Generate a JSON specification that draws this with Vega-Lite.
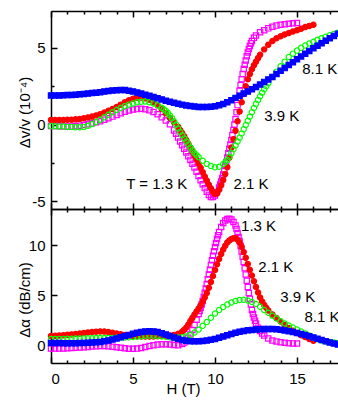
{
"$schema": "https://vega.github.io/schema/vega-lite/v6.json",
"padding": {"left": 17, "top": 10, "right": 0, "bottom": 0},
"spacing": 0,
"bounds": "flush",
"config": {
 "view": {"stroke": null},
 "axis": {"domainColor": "#000", "domainWidth": 1.5, "tickColor": "#000", "tickWidth": 1.5, "labelFont": "Liberation Sans", "labelFontSize": 15, "labelColor": "#000", "titleFont": "Liberation Sans", "titleFontSize": 15, "titleFontWeight": "normal", "titleColor": "#000", "grid": false},
 "text": {"font": "Liberation Sans", "fontSize": 15, "color": "#000"}
},
"datasets": {
"top": [
{"s":"1.3","h":0,"v":-0.1},{"s":"1.3","h":0.25,"v":-0.1},{"s":"1.3","h":0.5,"v":-0.11},{"s":"1.3","h":0.75,"v":-0.12},{"s":"1.3","h":1,"v":-0.12},{"s":"1.3","h":1.25,"v":-0.12},{"s":"1.3","h":1.5,"v":-0.1},{"s":"1.3","h":1.75,"v":-0.07},{"s":"1.3","h":2,"v":-0.03},{"s":"1.3","h":2.25,"v":0.02},{"s":"1.3","h":2.5,"v":0.08},{"s":"1.3","h":2.75,"v":0.15},{"s":"1.3","h":3,"v":0.22},{"s":"1.3","h":3.25,"v":0.31},{"s":"1.3","h":3.5,"v":0.41},{"s":"1.3","h":3.75,"v":0.52},{"s":"1.3","h":4,"v":0.63},{"s":"1.3","h":4.25,"v":0.74},{"s":"1.3","h":4.5,"v":0.84},{"s":"1.3","h":4.75,"v":0.92},{"s":"1.3","h":5,"v":0.98},{"s":"1.3","h":5.25,"v":1.01},{"s":"1.3","h":5.5,"v":1.03},{"s":"1.3","h":5.75,"v":1.0},{"s":"1.3","h":6,"v":0.93},{"s":"1.3","h":6.25,"v":0.82},{"s":"1.3","h":6.5,"v":0.67},{"s":"1.3","h":6.75,"v":0.48},{"s":"1.3","h":7,"v":0.27},{"s":"1.3","h":7.25,"v":0.02},{"s":"1.3","h":7.5,"v":-0.38},{"s":"1.3","h":7.625,"v":-0.6},{"s":"1.3","h":7.75,"v":-0.85},{"s":"1.3","h":7.875,"v":-1.1},{"s":"1.3","h":8,"v":-1.35},{"s":"1.3","h":8.125,"v":-1.58},{"s":"1.3","h":8.25,"v":-1.82},{"s":"1.3","h":8.375,"v":-2.06},{"s":"1.3","h":8.5,"v":-2.3},{"s":"1.3","h":8.625,"v":-2.55},{"s":"1.3","h":8.75,"v":-2.8},{"s":"1.3","h":8.875,"v":-3.07},{"s":"1.3","h":9,"v":-3.35},{"s":"1.3","h":9.125,"v":-3.62},{"s":"1.3","h":9.25,"v":-3.88},{"s":"1.3","h":9.375,"v":-4.14},{"s":"1.3","h":9.5,"v":-4.38},{"s":"1.3","h":9.625,"v":-4.58},{"s":"1.3","h":9.75,"v":-4.72},{"s":"1.3","h":9.875,"v":-4.72},{"s":"1.3","h":10,"v":-4.62},{"s":"1.3","h":10.125,"v":-4.4},{"s":"1.3","h":10.25,"v":-4.1},{"s":"1.3","h":10.3125,"v":-3.9},{"s":"1.3","h":10.375,"v":-3.7},{"s":"1.3","h":10.4375,"v":-3.48},{"s":"1.3","h":10.5,"v":-3.25},{"s":"1.3","h":10.5625,"v":-2.98},{"s":"1.3","h":10.625,"v":-2.7},{"s":"1.3","h":10.6875,"v":-2.43},{"s":"1.3","h":10.75,"v":-2.15},{"s":"1.3","h":10.8125,"v":-1.86},{"s":"1.3","h":10.875,"v":-1.57},{"s":"1.3","h":10.9375,"v":-1.29},{"s":"1.3","h":11,"v":-1.0},{"s":"1.3","h":11.0625,"v":-0.68},{"s":"1.3","h":11.125,"v":-0.35},{"s":"1.3","h":11.1875,"v":0.0},{"s":"1.3","h":11.25,"v":0.35},{"s":"1.3","h":11.3125,"v":0.8},{"s":"1.3","h":11.375,"v":1.27},{"s":"1.3","h":11.4375,"v":1.74},{"s":"1.3","h":11.5,"v":2.2},{"s":"1.3","h":11.5625,"v":2.58},{"s":"1.3","h":11.625,"v":2.95},{"s":"1.3","h":11.6875,"v":3.3},{"s":"1.3","h":11.75,"v":3.62},{"s":"1.3","h":11.8125,"v":3.9},{"s":"1.3","h":11.875,"v":4.18},{"s":"1.3","h":11.9375,"v":4.45},{"s":"1.3","h":12,"v":4.7},{"s":"1.3","h":12.0625,"v":4.92},{"s":"1.3","h":12.125,"v":5.12},{"s":"1.3","h":12.1875,"v":5.3},{"s":"1.3","h":12.25,"v":5.45},{"s":"1.3","h":12.375,"v":5.65},{"s":"1.3","h":12.5,"v":5.8},{"s":"1.3","h":12.75,"v":6.02},{"s":"1.3","h":13,"v":6.15},{"s":"1.3","h":13.25,"v":6.27},{"s":"1.3","h":13.5,"v":6.37},{"s":"1.3","h":13.75,"v":6.45},{"s":"1.3","h":14,"v":6.5},{"s":"1.3","h":14.25,"v":6.54},{"s":"1.3","h":14.5,"v":6.57},{"s":"1.3","h":14.75,"v":6.6},{"s":"1.3","h":15,"v":6.62},
{"s":"2.1","h":0,"v":0.3},{"s":"2.1","h":0.25,"v":0.3},{"s":"2.1","h":0.5,"v":0.3},{"s":"2.1","h":0.75,"v":0.3},{"s":"2.1","h":1,"v":0.31},{"s":"2.1","h":1.25,"v":0.32},{"s":"2.1","h":1.5,"v":0.34},{"s":"2.1","h":1.75,"v":0.37},{"s":"2.1","h":2,"v":0.41},{"s":"2.1","h":2.25,"v":0.46},{"s":"2.1","h":2.5,"v":0.52},{"s":"2.1","h":2.75,"v":0.6},{"s":"2.1","h":3,"v":0.68},{"s":"2.1","h":3.25,"v":0.78},{"s":"2.1","h":3.5,"v":0.9},{"s":"2.1","h":3.75,"v":1.02},{"s":"2.1","h":4,"v":1.15},{"s":"2.1","h":4.25,"v":1.3},{"s":"2.1","h":4.5,"v":1.45},{"s":"2.1","h":4.75,"v":1.58},{"s":"2.1","h":5,"v":1.68},{"s":"2.1","h":5.25,"v":1.74},{"s":"2.1","h":5.5,"v":1.76},{"s":"2.1","h":5.75,"v":1.72},{"s":"2.1","h":6,"v":1.62},{"s":"2.1","h":6.25,"v":1.46},{"s":"2.1","h":6.5,"v":1.26},{"s":"2.1","h":6.75,"v":1.02},{"s":"2.1","h":7,"v":0.74},{"s":"2.1","h":7.25,"v":0.45},{"s":"2.1","h":7.5,"v":0.15},{"s":"2.1","h":7.75,"v":-0.15},{"s":"2.1","h":7.875,"v":-0.35},{"s":"2.1","h":8,"v":-0.55},{"s":"2.1","h":8.125,"v":-0.77},{"s":"2.1","h":8.25,"v":-1.0},{"s":"2.1","h":8.375,"v":-1.25},{"s":"2.1","h":8.5,"v":-1.5},{"s":"2.1","h":8.625,"v":-1.76},{"s":"2.1","h":8.75,"v":-2.02},{"s":"2.1","h":8.875,"v":-2.28},{"s":"2.1","h":9,"v":-2.55},{"s":"2.1","h":9.125,"v":-2.82},{"s":"2.1","h":9.25,"v":-3.1},{"s":"2.1","h":9.375,"v":-3.38},{"s":"2.1","h":9.5,"v":-3.65},{"s":"2.1","h":9.625,"v":-3.92},{"s":"2.1","h":9.75,"v":-4.15},{"s":"2.1","h":9.875,"v":-4.38},{"s":"2.1","h":10,"v":-4.52},{"s":"2.1","h":10.125,"v":-4.48},{"s":"2.1","h":10.25,"v":-4.25},{"s":"2.1","h":10.375,"v":-3.95},{"s":"2.1","h":10.5,"v":-3.6},{"s":"2.1","h":10.625,"v":-3.22},{"s":"2.1","h":10.75,"v":-2.78},{"s":"2.1","h":10.875,"v":-2.15},{"s":"2.1","h":11,"v":-1.5},{"s":"2.1","h":11.125,"v":-0.95},{"s":"2.1","h":11.25,"v":-0.4},{"s":"2.1","h":11.375,"v":0.22},{"s":"2.1","h":11.5,"v":0.85},{"s":"2.1","h":11.625,"v":1.45},{"s":"2.1","h":11.75,"v":2.0},{"s":"2.1","h":11.875,"v":2.5},{"s":"2.1","h":12,"v":2.95},{"s":"2.1","h":12.125,"v":3.3},{"s":"2.1","h":12.25,"v":3.6},{"s":"2.1","h":12.375,"v":3.87},{"s":"2.1","h":12.5,"v":4.1},{"s":"2.1","h":12.625,"v":4.33},{"s":"2.1","h":12.75,"v":4.55},{"s":"2.1","h":13,"v":4.9},{"s":"2.1","h":13.25,"v":5.2},{"s":"2.1","h":13.5,"v":5.45},{"s":"2.1","h":13.75,"v":5.62},{"s":"2.1","h":14,"v":5.75},{"s":"2.1","h":14.25,"v":5.87},{"s":"2.1","h":14.5,"v":5.97},{"s":"2.1","h":14.75,"v":6.06},{"s":"2.1","h":15,"v":6.15},{"s":"2.1","h":15.25,"v":6.25},{"s":"2.1","h":15.5,"v":6.35},{"s":"2.1","h":15.75,"v":6.43},{"s":"2.1","h":16,"v":6.5},
{"s":"3.9","h":0,"v":-0.1},{"s":"3.9","h":0.25,"v":-0.11},{"s":"3.9","h":0.5,"v":-0.12},{"s":"3.9","h":0.75,"v":-0.13},{"s":"3.9","h":1,"v":-0.15},{"s":"3.9","h":1.25,"v":-0.16},{"s":"3.9","h":1.5,"v":-0.17},{"s":"3.9","h":1.75,"v":-0.17},{"s":"3.9","h":2,"v":-0.15},{"s":"3.9","h":2.25,"v":-0.08},{"s":"3.9","h":2.5,"v":0.03},{"s":"3.9","h":2.75,"v":0.17},{"s":"3.9","h":3,"v":0.32},{"s":"3.9","h":3.25,"v":0.48},{"s":"3.9","h":3.5,"v":0.64},{"s":"3.9","h":3.75,"v":0.8},{"s":"3.9","h":4,"v":0.95},{"s":"3.9","h":4.25,"v":1.08},{"s":"3.9","h":4.5,"v":1.2},{"s":"3.9","h":4.75,"v":1.3},{"s":"3.9","h":5,"v":1.38},{"s":"3.9","h":5.25,"v":1.45},{"s":"3.9","h":5.5,"v":1.49},{"s":"3.9","h":5.75,"v":1.5},{"s":"3.9","h":6,"v":1.46},{"s":"3.9","h":6.25,"v":1.38},{"s":"3.9","h":6.5,"v":1.26},{"s":"3.9","h":6.75,"v":1.1},{"s":"3.9","h":6.875,"v":1.0},{"s":"3.9","h":7,"v":0.9},{"s":"3.9","h":7.125,"v":0.76},{"s":"3.9","h":7.25,"v":0.6},{"s":"3.9","h":7.375,"v":0.42},{"s":"3.9","h":7.5,"v":0.22},{"s":"3.9","h":7.625,"v":0.0},{"s":"3.9","h":7.75,"v":-0.25},{"s":"3.9","h":7.875,"v":-0.48},{"s":"3.9","h":8,"v":-0.7},{"s":"3.9","h":8.125,"v":-0.9},{"s":"3.9","h":8.25,"v":-1.1},{"s":"3.9","h":8.375,"v":-1.3},{"s":"3.9","h":8.5,"v":-1.5},{"s":"3.9","h":8.625,"v":-1.68},{"s":"3.9","h":8.75,"v":-1.85},{"s":"3.9","h":8.875,"v":-1.99},{"s":"3.9","h":9,"v":-2.12},{"s":"3.9","h":9.25,"v":-2.36},{"s":"3.9","h":9.5,"v":-2.56},{"s":"3.9","h":9.75,"v":-2.7},{"s":"3.9","h":10,"v":-2.78},{"s":"3.9","h":10.25,"v":-2.75},{"s":"3.9","h":10.5,"v":-2.57},{"s":"3.9","h":10.625,"v":-2.45},{"s":"3.9","h":10.75,"v":-2.3},{"s":"3.9","h":10.875,"v":-2.1},{"s":"3.9","h":11,"v":-1.86},{"s":"3.9","h":11.125,"v":-1.61},{"s":"3.9","h":11.25,"v":-1.36},{"s":"3.9","h":11.375,"v":-1.1},{"s":"3.9","h":11.5,"v":-0.85},{"s":"3.9","h":11.625,"v":-0.58},{"s":"3.9","h":11.75,"v":-0.3},{"s":"3.9","h":11.875,"v":-0.03},{"s":"3.9","h":12,"v":0.25},{"s":"3.9","h":12.125,"v":0.52},{"s":"3.9","h":12.25,"v":0.8},{"s":"3.9","h":12.375,"v":1.08},{"s":"3.9","h":12.5,"v":1.35},{"s":"3.9","h":12.625,"v":1.6},{"s":"3.9","h":12.75,"v":1.85},{"s":"3.9","h":12.875,"v":2.08},{"s":"3.9","h":13,"v":2.3},{"s":"3.9","h":13.125,"v":2.5},{"s":"3.9","h":13.25,"v":2.7},{"s":"3.9","h":13.5,"v":3.1},{"s":"3.9","h":13.75,"v":3.45},{"s":"3.9","h":14,"v":3.8},{"s":"3.9","h":14.25,"v":4.1},{"s":"3.9","h":14.5,"v":4.4},{"s":"3.9","h":14.75,"v":4.62},{"s":"3.9","h":15,"v":4.82},{"s":"3.9","h":15.25,"v":5.0},{"s":"3.9","h":15.5,"v":5.15},{"s":"3.9","h":15.75,"v":5.28},{"s":"3.9","h":16,"v":5.4},{"s":"3.9","h":16.25,"v":5.52},{"s":"3.9","h":16.5,"v":5.62},{"s":"3.9","h":16.75,"v":5.72},{"s":"3.9","h":17,"v":5.82},{"s":"3.9","h":17.25,"v":5.9},{"s":"3.9","h":17.5,"v":5.98},
{"s":"8.1","h":0,"v":1.9},{"s":"8.1","h":0.25,"v":1.9},{"s":"8.1","h":0.5,"v":1.9},{"s":"8.1","h":0.75,"v":1.91},{"s":"8.1","h":1,"v":1.92},{"s":"8.1","h":1.25,"v":1.93},{"s":"8.1","h":1.5,"v":1.95},{"s":"8.1","h":1.75,"v":1.97},{"s":"8.1","h":2,"v":1.99},{"s":"8.1","h":2.25,"v":2.02},{"s":"8.1","h":2.5,"v":2.05},{"s":"8.1","h":2.75,"v":2.08},{"s":"8.1","h":3,"v":2.11},{"s":"8.1","h":3.25,"v":2.15},{"s":"8.1","h":3.5,"v":2.19},{"s":"8.1","h":3.75,"v":2.22},{"s":"8.1","h":4,"v":2.24},{"s":"8.1","h":4.25,"v":2.26},{"s":"8.1","h":4.5,"v":2.25},{"s":"8.1","h":4.75,"v":2.21},{"s":"8.1","h":5,"v":2.16},{"s":"8.1","h":5.25,"v":2.09},{"s":"8.1","h":5.5,"v":2.02},{"s":"8.1","h":5.75,"v":1.95},{"s":"8.1","h":6,"v":1.88},{"s":"8.1","h":6.25,"v":1.8},{"s":"8.1","h":6.5,"v":1.72},{"s":"8.1","h":6.75,"v":1.64},{"s":"8.1","h":7,"v":1.56},{"s":"8.1","h":7.25,"v":1.49},{"s":"8.1","h":7.5,"v":1.42},{"s":"8.1","h":7.75,"v":1.36},{"s":"8.1","h":8,"v":1.3},{"s":"8.1","h":8.25,"v":1.25},{"s":"8.1","h":8.5,"v":1.21},{"s":"8.1","h":8.75,"v":1.18},{"s":"8.1","h":9,"v":1.15},{"s":"8.1","h":9.25,"v":1.14},{"s":"8.1","h":9.5,"v":1.14},{"s":"8.1","h":9.75,"v":1.16},{"s":"8.1","h":10,"v":1.2},{"s":"8.1","h":10.25,"v":1.26},{"s":"8.1","h":10.5,"v":1.34},{"s":"8.1","h":10.75,"v":1.45},{"s":"8.1","h":11,"v":1.58},{"s":"8.1","h":11.25,"v":1.74},{"s":"8.1","h":11.5,"v":1.88},{"s":"8.1","h":11.75,"v":2.02},{"s":"8.1","h":12,"v":2.15},{"s":"8.1","h":12.25,"v":2.3},{"s":"8.1","h":12.5,"v":2.45},{"s":"8.1","h":12.75,"v":2.61},{"s":"8.1","h":13,"v":2.78},{"s":"8.1","h":13.25,"v":2.94},{"s":"8.1","h":13.5,"v":3.1},{"s":"8.1","h":13.75,"v":3.3},{"s":"8.1","h":14,"v":3.5},{"s":"8.1","h":14.25,"v":3.69},{"s":"8.1","h":14.5,"v":3.88},{"s":"8.1","h":14.75,"v":4.06},{"s":"8.1","h":15,"v":4.25},{"s":"8.1","h":15.25,"v":4.44},{"s":"8.1","h":15.5,"v":4.62},{"s":"8.1","h":15.75,"v":4.8},{"s":"8.1","h":16,"v":4.98},{"s":"8.1","h":16.25,"v":5.14},{"s":"8.1","h":16.5,"v":5.3},{"s":"8.1","h":16.75,"v":5.46},{"s":"8.1","h":17,"v":5.62},{"s":"8.1","h":17.25,"v":5.77},{"s":"8.1","h":17.5,"v":5.92}
],
"bot": [
{"s":"1.3","h":0,"v":-0.35},{"s":"1.3","h":0.25,"v":-0.35},{"s":"1.3","h":0.5,"v":-0.35},{"s":"1.3","h":0.75,"v":-0.34},{"s":"1.3","h":1,"v":-0.32},{"s":"1.3","h":1.25,"v":-0.3},{"s":"1.3","h":1.5,"v":-0.28},{"s":"1.3","h":1.75,"v":-0.25},{"s":"1.3","h":2,"v":-0.22},{"s":"1.3","h":2.25,"v":-0.19},{"s":"1.3","h":2.5,"v":-0.15},{"s":"1.3","h":2.75,"v":-0.12},{"s":"1.3","h":3,"v":-0.1},{"s":"1.3","h":3.25,"v":-0.1},{"s":"1.3","h":3.5,"v":-0.12},{"s":"1.3","h":3.75,"v":-0.17},{"s":"1.3","h":4,"v":-0.22},{"s":"1.3","h":4.25,"v":-0.28},{"s":"1.3","h":4.5,"v":-0.33},{"s":"1.3","h":4.75,"v":-0.37},{"s":"1.3","h":5,"v":-0.38},{"s":"1.3","h":5.25,"v":-0.36},{"s":"1.3","h":5.5,"v":-0.3},{"s":"1.3","h":5.75,"v":-0.2},{"s":"1.3","h":6,"v":-0.1},{"s":"1.3","h":6.25,"v":-0.02},{"s":"1.3","h":6.5,"v":0.04},{"s":"1.3","h":6.75,"v":0.07},{"s":"1.3","h":7,"v":0.08},{"s":"1.3","h":7.25,"v":0.05},{"s":"1.3","h":7.5,"v":0.0},{"s":"1.3","h":7.75,"v":-0.02},{"s":"1.3","h":8,"v":0.1},{"s":"1.3","h":8.125,"v":0.25},{"s":"1.3","h":8.25,"v":0.45},{"s":"1.3","h":8.375,"v":0.72},{"s":"1.3","h":8.5,"v":1.05},{"s":"1.3","h":8.625,"v":1.5},{"s":"1.3","h":8.75,"v":2.0},{"s":"1.3","h":8.875,"v":2.52},{"s":"1.3","h":9,"v":3.1},{"s":"1.3","h":9.0625,"v":3.4},{"s":"1.3","h":9.125,"v":3.72},{"s":"1.3","h":9.1875,"v":4.05},{"s":"1.3","h":9.25,"v":4.4},{"s":"1.3","h":9.3125,"v":4.8},{"s":"1.3","h":9.375,"v":5.22},{"s":"1.3","h":9.4375,"v":5.65},{"s":"1.3","h":9.5,"v":6.1},{"s":"1.3","h":9.5625,"v":6.57},{"s":"1.3","h":9.625,"v":7.05},{"s":"1.3","h":9.6875,"v":7.52},{"s":"1.3","h":9.75,"v":8.0},{"s":"1.3","h":9.8125,"v":8.47},{"s":"1.3","h":9.875,"v":8.93},{"s":"1.3","h":9.9375,"v":9.37},{"s":"1.3","h":10,"v":9.8},{"s":"1.3","h":10.0625,"v":10.2},{"s":"1.3","h":10.125,"v":10.6},{"s":"1.3","h":10.1875,"v":10.97},{"s":"1.3","h":10.25,"v":11.3},{"s":"1.3","h":10.375,"v":11.8},{"s":"1.3","h":10.5,"v":12.2},{"s":"1.3","h":10.625,"v":12.45},{"s":"1.3","h":10.75,"v":12.6},{"s":"1.3","h":10.875,"v":12.62},{"s":"1.3","h":11,"v":12.55},{"s":"1.3","h":11.125,"v":12.3},{"s":"1.3","h":11.25,"v":11.95},{"s":"1.3","h":11.3125,"v":11.6},{"s":"1.3","h":11.375,"v":11.2},{"s":"1.3","h":11.4375,"v":10.8},{"s":"1.3","h":11.5,"v":10.4},{"s":"1.3","h":11.5625,"v":9.9},{"s":"1.3","h":11.625,"v":9.35},{"s":"1.3","h":11.6875,"v":8.83},{"s":"1.3","h":11.75,"v":8.3},{"s":"1.3","h":11.8125,"v":7.68},{"s":"1.3","h":11.875,"v":7.05},{"s":"1.3","h":11.9375,"v":6.42},{"s":"1.3","h":12,"v":5.8},{"s":"1.3","h":12.0625,"v":5.2},{"s":"1.3","h":12.125,"v":4.62},{"s":"1.3","h":12.1875,"v":4.05},{"s":"1.3","h":12.25,"v":3.5},{"s":"1.3","h":12.3125,"v":3.1},{"s":"1.3","h":12.375,"v":2.75},{"s":"1.3","h":12.4375,"v":2.43},{"s":"1.3","h":12.5,"v":2.15},{"s":"1.3","h":12.625,"v":1.72},{"s":"1.3","h":12.75,"v":1.4},{"s":"1.3","h":12.875,"v":1.15},{"s":"1.3","h":13,"v":0.95},{"s":"1.3","h":13.25,"v":0.65},{"s":"1.3","h":13.5,"v":0.45},{"s":"1.3","h":13.75,"v":0.35},{"s":"1.3","h":14,"v":0.28},{"s":"1.3","h":14.25,"v":0.22},{"s":"1.3","h":14.5,"v":0.18},{"s":"1.3","h":14.75,"v":0.16},{"s":"1.3","h":15,"v":0.15},
{"s":"2.1","h":0,"v":0.9},{"s":"2.1","h":0.25,"v":0.92},{"s":"2.1","h":0.5,"v":0.95},{"s":"2.1","h":0.75,"v":0.98},{"s":"2.1","h":1,"v":1.02},{"s":"2.1","h":1.25,"v":1.06},{"s":"2.1","h":1.5,"v":1.1},{"s":"2.1","h":1.75,"v":1.15},{"s":"2.1","h":2,"v":1.2},{"s":"2.1","h":2.25,"v":1.25},{"s":"2.1","h":2.5,"v":1.3},{"s":"2.1","h":2.75,"v":1.33},{"s":"2.1","h":3,"v":1.35},{"s":"2.1","h":3.25,"v":1.34},{"s":"2.1","h":3.5,"v":1.3},{"s":"2.1","h":3.75,"v":1.23},{"s":"2.1","h":4,"v":1.15},{"s":"2.1","h":4.25,"v":1.07},{"s":"2.1","h":4.5,"v":1.0},{"s":"2.1","h":4.75,"v":0.94},{"s":"2.1","h":5,"v":0.9},{"s":"2.1","h":5.25,"v":0.87},{"s":"2.1","h":5.5,"v":0.85},{"s":"2.1","h":5.75,"v":0.85},{"s":"2.1","h":6,"v":0.85},{"s":"2.1","h":6.25,"v":0.86},{"s":"2.1","h":6.5,"v":0.87},{"s":"2.1","h":6.75,"v":0.88},{"s":"2.1","h":7,"v":0.9},{"s":"2.1","h":7.25,"v":0.94},{"s":"2.1","h":7.5,"v":1.0},{"s":"2.1","h":7.75,"v":1.12},{"s":"2.1","h":8,"v":1.35},{"s":"2.1","h":8.125,"v":1.53},{"s":"2.1","h":8.25,"v":1.75},{"s":"2.1","h":8.375,"v":2.05},{"s":"2.1","h":8.5,"v":2.4},{"s":"2.1","h":8.625,"v":2.72},{"s":"2.1","h":8.75,"v":3.05},{"s":"2.1","h":8.875,"v":3.35},{"s":"2.1","h":9,"v":3.65},{"s":"2.1","h":9.125,"v":3.98},{"s":"2.1","h":9.25,"v":4.35},{"s":"2.1","h":9.375,"v":4.75},{"s":"2.1","h":9.5,"v":5.2},{"s":"2.1","h":9.625,"v":5.72},{"s":"2.1","h":9.75,"v":6.3},{"s":"2.1","h":9.875,"v":6.9},{"s":"2.1","h":10,"v":7.5},{"s":"2.1","h":10.125,"v":8.07},{"s":"2.1","h":10.25,"v":8.6},{"s":"2.1","h":10.375,"v":9.1},{"s":"2.1","h":10.5,"v":9.55},{"s":"2.1","h":10.625,"v":9.93},{"s":"2.1","h":10.75,"v":10.25},{"s":"2.1","h":10.875,"v":10.45},{"s":"2.1","h":11,"v":10.6},{"s":"2.1","h":11.125,"v":10.68},{"s":"2.1","h":11.25,"v":10.7},{"s":"2.1","h":11.375,"v":10.52},{"s":"2.1","h":11.5,"v":10.25},{"s":"2.1","h":11.625,"v":9.82},{"s":"2.1","h":11.75,"v":9.3},{"s":"2.1","h":11.875,"v":8.72},{"s":"2.1","h":12,"v":8.1},{"s":"2.1","h":12.125,"v":7.52},{"s":"2.1","h":12.25,"v":6.95},{"s":"2.1","h":12.375,"v":6.37},{"s":"2.1","h":12.5,"v":5.8},{"s":"2.1","h":12.625,"v":5.25},{"s":"2.1","h":12.75,"v":4.75},{"s":"2.1","h":12.875,"v":4.35},{"s":"2.1","h":13,"v":4.0},{"s":"2.1","h":13.125,"v":3.72},{"s":"2.1","h":13.25,"v":3.45},{"s":"2.1","h":13.5,"v":3.05},{"s":"2.1","h":13.75,"v":2.7},{"s":"2.1","h":14,"v":2.35},{"s":"2.1","h":14.25,"v":2.0},{"s":"2.1","h":14.5,"v":1.7},{"s":"2.1","h":14.75,"v":1.42},{"s":"2.1","h":15,"v":1.2},{"s":"2.1","h":15.25,"v":0.98},{"s":"2.1","h":15.5,"v":0.8},{"s":"2.1","h":15.75,"v":0.6},{"s":"2.1","h":16,"v":0.43},
{"s":"3.9","h":0,"v":0.6},{"s":"3.9","h":0.25,"v":0.6},{"s":"3.9","h":0.5,"v":0.61},{"s":"3.9","h":0.75,"v":0.61},{"s":"3.9","h":1,"v":0.62},{"s":"3.9","h":1.25,"v":0.63},{"s":"3.9","h":1.5,"v":0.64},{"s":"3.9","h":1.75,"v":0.65},{"s":"3.9","h":2,"v":0.66},{"s":"3.9","h":2.25,"v":0.67},{"s":"3.9","h":2.5,"v":0.68},{"s":"3.9","h":2.75,"v":0.69},{"s":"3.9","h":3,"v":0.7},{"s":"3.9","h":3.25,"v":0.7},{"s":"3.9","h":3.5,"v":0.71},{"s":"3.9","h":3.75,"v":0.71},{"s":"3.9","h":4,"v":0.72},{"s":"3.9","h":4.25,"v":0.74},{"s":"3.9","h":4.5,"v":0.76},{"s":"3.9","h":4.75,"v":0.78},{"s":"3.9","h":5,"v":0.8},{"s":"3.9","h":5.25,"v":0.84},{"s":"3.9","h":5.5,"v":0.88},{"s":"3.9","h":5.75,"v":0.92},{"s":"3.9","h":6,"v":0.95},{"s":"3.9","h":6.25,"v":0.94},{"s":"3.9","h":6.5,"v":0.92},{"s":"3.9","h":6.75,"v":0.87},{"s":"3.9","h":7,"v":0.82},{"s":"3.9","h":7.25,"v":0.78},{"s":"3.9","h":7.5,"v":0.76},{"s":"3.9","h":7.75,"v":0.76},{"s":"3.9","h":8,"v":0.78},{"s":"3.9","h":8.25,"v":0.86},{"s":"3.9","h":8.5,"v":1.0},{"s":"3.9","h":8.75,"v":1.25},{"s":"3.9","h":9,"v":1.55},{"s":"3.9","h":9.25,"v":1.92},{"s":"3.9","h":9.5,"v":2.3},{"s":"3.9","h":9.75,"v":2.72},{"s":"3.9","h":10,"v":3.15},{"s":"3.9","h":10.25,"v":3.5},{"s":"3.9","h":10.5,"v":3.8},{"s":"3.9","h":10.75,"v":4.05},{"s":"3.9","h":11,"v":4.25},{"s":"3.9","h":11.25,"v":4.4},{"s":"3.9","h":11.5,"v":4.5},{"s":"3.9","h":11.75,"v":4.53},{"s":"3.9","h":12,"v":4.45},{"s":"3.9","h":12.25,"v":4.3},{"s":"3.9","h":12.5,"v":4.1},{"s":"3.9","h":12.75,"v":3.82},{"s":"3.9","h":13,"v":3.5},{"s":"3.9","h":13.25,"v":3.22},{"s":"3.9","h":13.5,"v":2.93},{"s":"3.9","h":13.75,"v":2.65},{"s":"3.9","h":14,"v":2.38},{"s":"3.9","h":14.25,"v":2.15},{"s":"3.9","h":14.5,"v":1.95},{"s":"3.9","h":14.75,"v":1.75},{"s":"3.9","h":15,"v":1.55},{"s":"3.9","h":15.25,"v":1.35},{"s":"3.9","h":15.5,"v":1.15},{"s":"3.9","h":15.75,"v":0.94},{"s":"3.9","h":16,"v":0.73},{"s":"3.9","h":16.25,"v":0.57},{"s":"3.9","h":16.5,"v":0.45},{"s":"3.9","h":16.75,"v":0.36},{"s":"3.9","h":17,"v":0.3},{"s":"3.9","h":17.25,"v":0.24},{"s":"3.9","h":17.5,"v":0.2},
{"s":"8.1","h":0,"v":0.2},{"s":"8.1","h":0.25,"v":0.2},{"s":"8.1","h":0.5,"v":0.19},{"s":"8.1","h":0.75,"v":0.18},{"s":"8.1","h":1,"v":0.18},{"s":"8.1","h":1.25,"v":0.18},{"s":"8.1","h":1.5,"v":0.18},{"s":"8.1","h":1.75,"v":0.19},{"s":"8.1","h":2,"v":0.2},{"s":"8.1","h":2.25,"v":0.22},{"s":"8.1","h":2.5,"v":0.25},{"s":"8.1","h":2.75,"v":0.27},{"s":"8.1","h":3,"v":0.3},{"s":"8.1","h":3.25,"v":0.37},{"s":"8.1","h":3.5,"v":0.45},{"s":"8.1","h":3.75,"v":0.55},{"s":"8.1","h":4,"v":0.65},{"s":"8.1","h":4.25,"v":0.77},{"s":"8.1","h":4.5,"v":0.9},{"s":"8.1","h":4.75,"v":1.01},{"s":"8.1","h":5,"v":1.12},{"s":"8.1","h":5.25,"v":1.22},{"s":"8.1","h":5.5,"v":1.3},{"s":"8.1","h":5.75,"v":1.35},{"s":"8.1","h":6,"v":1.38},{"s":"8.1","h":6.25,"v":1.36},{"s":"8.1","h":6.5,"v":1.3},{"s":"8.1","h":6.75,"v":1.18},{"s":"8.1","h":7,"v":1.05},{"s":"8.1","h":7.25,"v":0.9},{"s":"8.1","h":7.5,"v":0.75},{"s":"8.1","h":7.75,"v":0.62},{"s":"8.1","h":8,"v":0.5},{"s":"8.1","h":8.25,"v":0.43},{"s":"8.1","h":8.5,"v":0.38},{"s":"8.1","h":8.75,"v":0.37},{"s":"8.1","h":9,"v":0.38},{"s":"8.1","h":9.25,"v":0.41},{"s":"8.1","h":9.5,"v":0.45},{"s":"8.1","h":9.75,"v":0.52},{"s":"8.1","h":10,"v":0.6},{"s":"8.1","h":10.25,"v":0.72},{"s":"8.1","h":10.5,"v":0.85},{"s":"8.1","h":10.75,"v":0.98},{"s":"8.1","h":11,"v":1.1},{"s":"8.1","h":11.25,"v":1.22},{"s":"8.1","h":11.5,"v":1.33},{"s":"8.1","h":11.75,"v":1.41},{"s":"8.1","h":12,"v":1.47},{"s":"8.1","h":12.25,"v":1.51},{"s":"8.1","h":12.5,"v":1.55},{"s":"8.1","h":12.75,"v":1.58},{"s":"8.1","h":13,"v":1.6},{"s":"8.1","h":13.25,"v":1.61},{"s":"8.1","h":13.5,"v":1.6},{"s":"8.1","h":13.75,"v":1.57},{"s":"8.1","h":14,"v":1.52},{"s":"8.1","h":14.25,"v":1.46},{"s":"8.1","h":14.5,"v":1.38},{"s":"8.1","h":14.75,"v":1.3},{"s":"8.1","h":15,"v":1.2},{"s":"8.1","h":15.25,"v":1.1},{"s":"8.1","h":15.5,"v":1.0},{"s":"8.1","h":15.75,"v":0.88},{"s":"8.1","h":16,"v":0.75},{"s":"8.1","h":16.25,"v":0.62},{"s":"8.1","h":16.5,"v":0.5},{"s":"8.1","h":16.75,"v":0.37},{"s":"8.1","h":17,"v":0.25},{"s":"8.1","h":17.25,"v":0.15},{"s":"8.1","h":17.5,"v":0.05}
],
"lt": [{"h":4.59,"v":-3.84,"t":"T = 1.3 K"},{"h":11.13,"v":-3.84,"t":"2.1 K"},{"h":13.0,"v":0.59,"t":"3.9 K"},{"h":15.32,"v":3.65,"t":"8.1 K"}],
"lb": [{"h":11.59,"v":11.93,"t":"1.3 K"},{"h":12.64,"v":7.76,"t":"2.1 K"},{"h":13.98,"v":4.76,"t":"3.9 K"},{"h":15.45,"v":2.76,"t":"8.1 K"}]
},
"vconcat": [
{
 "width": 287, "height": 198,
 "resolve": {"axis": {"x": "independent"}},
 "layer": [
  {
   "data": {"name": "top"},
   "mark": {"type": "point", "size": 28, "strokeWidth": 1.2, "opacity": 1},
   "encoding": {
    "x": {"field": "h", "type": "quantitative", "scale": {"domain": [0, 17.5], "nice": false, "zero": false},
          "axis": {"orient": "bottom", "values": [0,1,2,3,4,5,6,7,8,9,10,11,12,13,14,15,16,17], "labels": false, "title": null,
                   "tickSize": {"condition": {"test": "datum.value % 5 === 0", "value": -6}, "value": -3}}},
    "y": {"field": "v", "type": "quantitative", "scale": {"domain": [-5.5, 7.4], "nice": false, "zero": false},
          "axis": {"values": [-5, -2.5, 0, 2.5, 5], "labelExpr": "datum.value % 5 === 0 ? (datum.value < 0 ? '-' + abs(datum.value) : '' + datum.value) : ''",
                   "tickSize": {"condition": {"test": "datum.value % 5 === 0", "value": -6}, "value": -3},
                   "labelPadding": 12, "title": "Δv/v (10⁻⁴)", "titleX": -27, "titleY": 101, "titleBaseline": "middle", "titleAngle": -90}},
    "shape": {"field": "s", "type": "nominal", "scale": {"domain": ["1.3","2.1","3.9","8.1"], "range": ["square","circle","circle","square"]}, "legend": null},
    "stroke": {"field": "s", "type": "nominal", "scale": {"domain": ["1.3","2.1","3.9","8.1"], "range": ["#ff00ff","#ff0000","#00ff00","#0000ff"]}, "legend": null},
    "fill": {"field": "s", "type": "nominal", "scale": {"domain": ["1.3","2.1","3.9","8.1"], "range": ["transparent","#ff0000","transparent","#0000ff"]}, "legend": null}
   }
  },
  {
   "data": {"name": "lt"},
   "mark": {"type": "text", "align": "left", "baseline": "middle"},
   "encoding": {
    "x": {"field": "h", "type": "quantitative", "scale": {"domain": [0, 17.5], "nice": false, "zero": false},
          "axis": {"orient": "top", "values": [0,1,2,3,4,5,6,7,8,9,10,11,12,13,14,15,16,17], "labels": false, "title": null,
                   "tickSize": {"condition": {"test": "datum.value % 5 === 0", "value": -6}, "value": -3}}},
    "y": {"field": "v", "type": "quantitative"},
    "text": {"field": "t"}
   }
  }
 ]
},
{
 "width": 287, "height": 154,
 "resolve": {"axis": {"x": "independent"}},
 "layer": [
  {
   "data": {"name": "bot"},
   "mark": {"type": "point", "size": 28, "strokeWidth": 1.2, "opacity": 1},
   "encoding": {
    "x": {"field": "h", "type": "quantitative", "scale": {"domain": [0, 17.5], "nice": false, "zero": false},
          "axis": {"orient": "bottom", "values": [0,1,2,3,4,5,6,7,8,9,10,11,12,13,14,15,16,17], "labelExpr": "datum.value % 5 === 0 ? datum.label : ''",
                   "tickSize": {"condition": {"test": "datum.value % 5 === 0", "value": -6}, "value": -3},
                   "labelPadding": 14, "title": "H (T)", "titleX": 132, "titleY": 25.5, "titleBaseline": "middle"}},
    "y": {"field": "v", "type": "quantitative", "scale": {"domain": [-1.8, 13.6], "nice": false, "zero": false},
          "axis": {"values": [0, 2.5, 5, 7.5, 10, 12.5], "labelExpr": "datum.value % 5 === 0 ? datum.label : ''",
                   "tickSize": {"condition": {"test": "datum.value % 5 === 0", "value": -6}, "value": -3},
                   "labelPadding": 12, "title": "Δα (dB/cm)", "titleX": -27, "titleY": 90.5, "titleBaseline": "middle", "titleAngle": -90}},
    "shape": {"field": "s", "type": "nominal", "scale": {"domain": ["1.3","2.1","3.9","8.1"], "range": ["square","circle","circle","square"]}, "legend": null},
    "stroke": {"field": "s", "type": "nominal", "scale": {"domain": ["1.3","2.1","3.9","8.1"], "range": ["#ff00ff","#ff0000","#00ff00","#0000ff"]}, "legend": null},
    "fill": {"field": "s", "type": "nominal", "scale": {"domain": ["1.3","2.1","3.9","8.1"], "range": ["transparent","#ff0000","transparent","#0000ff"]}, "legend": null}
   }
  },
  {
   "data": {"name": "lb"},
   "mark": {"type": "text", "align": "left", "baseline": "middle"},
   "encoding": {
    "x": {"field": "h", "type": "quantitative", "scale": {"domain": [0, 17.5], "nice": false, "zero": false},
          "axis": {"orient": "top", "values": [0,1,2,3,4,5,6,7,8,9,10,11,12,13,14,15,16,17], "labels": false, "title": null,
                   "tickSize": {"condition": {"test": "datum.value % 5 === 0", "value": -6}, "value": -3}}},
    "y": {"field": "v", "type": "quantitative"},
    "text": {"field": "t"}
   }
  }
 ]
}
]
}
